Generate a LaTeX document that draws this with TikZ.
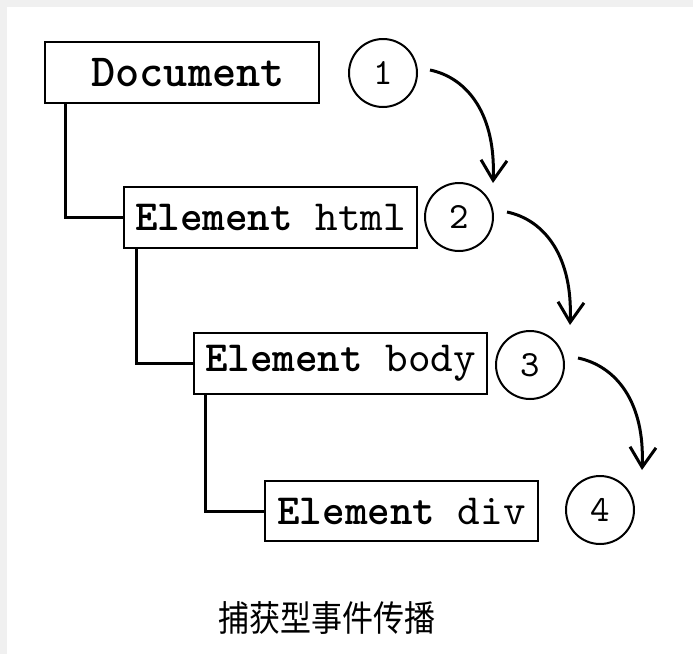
\documentclass[tikz,border=0pt]{standalone}
\usepackage{fontspec}
\setmonofont{lmmono10-regular.otf}[BoldFont=lmmonolt10-bold.otf]
\newfontfamily\cjkfont{Noto Sans CJK SC}
\usetikzlibrary{arrows.meta,calc}

\definecolor{pagegrey}{HTML}{F0F0F0}

\tikzset{
  treebox/.style={draw=black, line width=2.4pt, rectangle, inner sep=0pt,
    font=\fontsize{43}{43}\selectfont\ttfamily},
  stage/.style={draw=black, line width=2pt, circle, inner sep=0pt,
    minimum size=68pt, font=\fontsize{37}{37}\selectfont\ttfamily},
  tree/.style={draw=black, line width=3pt},
  flow/.style={draw=black, line width=3pt,
    -{Straight Barb[length=20pt,width=26pt,line width=3pt]}},
}

\begin{document}
\begin{tikzpicture}[x=1pt,y=1pt]
  % page with its light grey top and left margins
  \fill[white] (0,0) rectangle (693,-654);
  \fill[pagegrey] (0,0) rectangle (693,-7);
  \fill[pagegrey] (0,0) rectangle (7,-654);
  \useasboundingbox (0,0) rectangle (693,-654);

  % DOM tree
  \node[treebox, minimum width=274pt, minimum height=61pt] (doc) at (182,-72.5)
    {\hspace*{12pt}\fontsize{46}{46}\selectfont\bfseries Document};
  \node[treebox, minimum width=293pt, minimum height=61pt] (html) at (270.5,-217.5)
    {{\bfseries Element} html};
  \node[treebox, minimum width=293pt, minimum height=61pt] (body) at (340.5,-363.5)
    {{\bfseries Element} body};
  \node[treebox, minimum width=273pt, minimum height=60pt] (div) at (401.5,-511)
    {{\bfseries Element} div};

  \draw[tree] ([xshift=22pt]doc.south west) |- (html.west);
  \draw[tree] ([xshift=14pt]html.south west) |- (body.west);
  \draw[tree] ([xshift=13pt]body.south west) |- (div.west);

  % capture stages
  \node[stage] (c1) at (383,-73) {1};
  \node[stage] (c2) at (459,-217) {2};
  \node[stage] (c3) at (530,-365) {3};
  \node[stage] (c4) at (600,-510) {4};

  \coordinate (a1s) at ($(c1)+(47,3)$);
  \coordinate (a1e) at ($(a1s)+(63,-113)$);
  \coordinate (a2s) at ($(c2)+(48,5)$);
  \coordinate (a2e) at ($(a2s)+(63,-113)$);
  \coordinate (a3s) at ($(c3)+(48,7)$);
  \coordinate (a3e) at ($(a3s)+(64,-112)$);

  \draw[flow] (a1s) .. controls +(38,-8) and +(3,68) .. (a1e);
  \draw[flow] (a2s) .. controls +(38,-8) and +(3,68) .. (a2e);
  \draw[flow] (a3s) .. controls +(38,-8) and +(3,68) .. (a3e);

  % caption
  \node[inner sep=0pt] (cap) at (327,-618)
    {\scalebox{1}[1.15]{\fontsize{31}{31}\selectfont\cjkfont 捕获型事件传播}};
\end{tikzpicture}
\end{document}
